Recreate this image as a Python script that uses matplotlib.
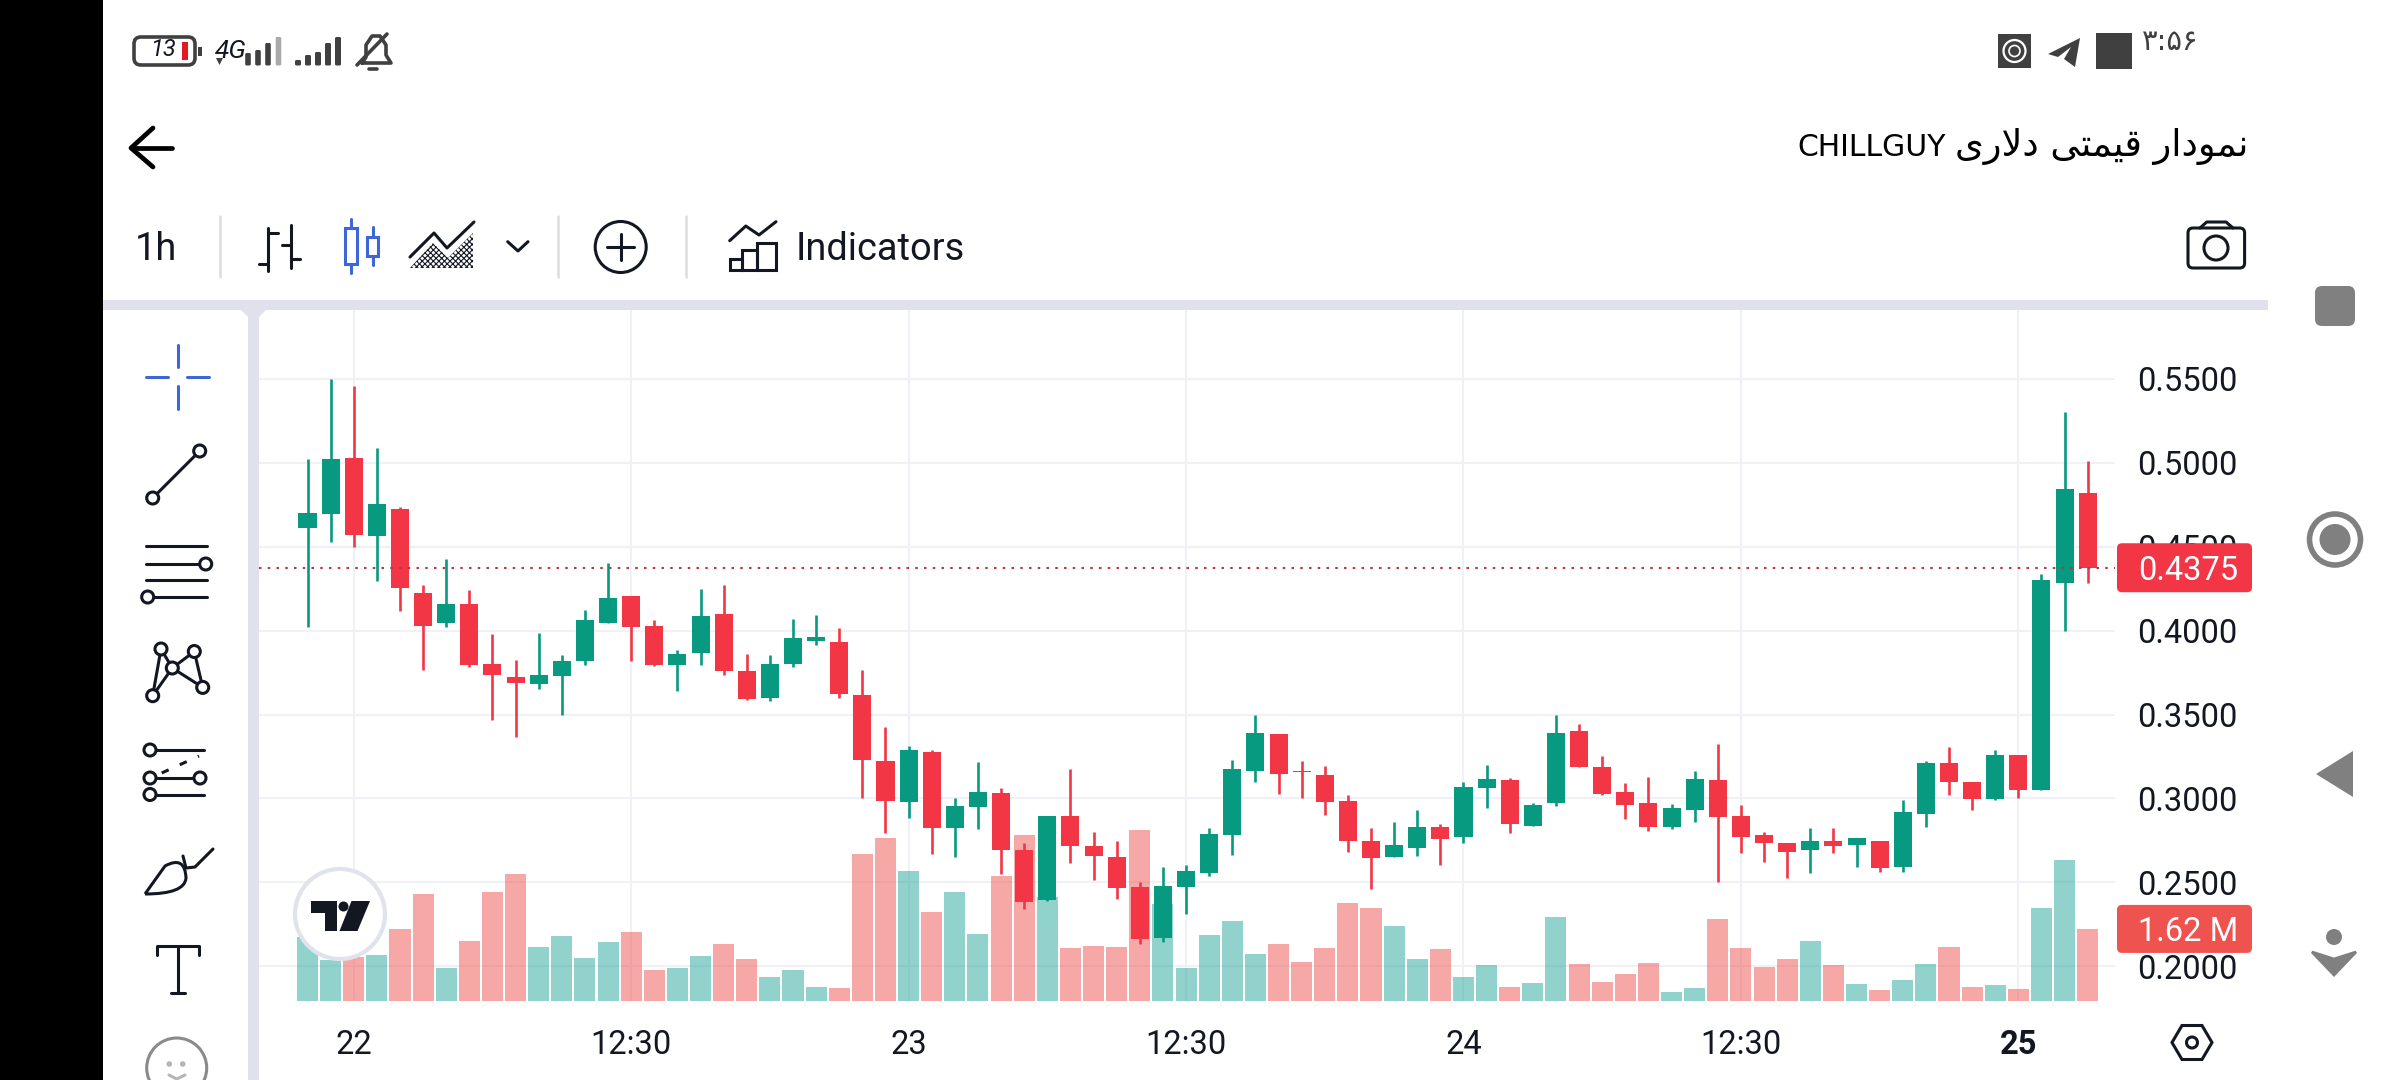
from matplotlib import pyplot as plt
from matplotlib.patches import Circle, FancyBboxPatch, Polygon, Rectangle, PathPatch
from matplotlib.path import Path

plt.rcParams['font.family'] = ['Roboto', 'DejaVu Sans']

# hourly candles
opens = [0.4609, 0.4697, 0.5030, 0.4565, 0.4727, 0.4227, 0.4044, 0.4161, 0.3804, 0.3722, 0.3683, 0.3727, 0.3817,
         0.4044, 0.4208, 0.4025, 0.3798, 0.3869, 0.4101, 0.3757, 0.3596, 0.3804, 0.3940, 0.3934, 0.3615, 0.3221,
         0.2981, 0.3276, 0.2822, 0.2948, 0.3030, 0.2694, 0.2393, 0.2893, 0.2716, 0.2650, 0.2473, 0.2169, 0.2473,
         0.2554, 0.2781, 0.3161, 0.3382, 0.3164, 0.3142, 0.2984, 0.2749, 0.2650, 0.2705, 0.2828, 0.2768, 0.3060,
         0.3109, 0.2833, 0.2973, 0.3404, 0.3186, 0.3036, 0.2973, 0.2828, 0.2929, 0.3109, 0.2893, 0.2781, 0.2732,
         0.2691, 0.2746, 0.2721, 0.2746, 0.2590, 0.2907, 0.3211, 0.3096, 0.2995, 0.3257, 0.3049, 0.4287, 0.4822]
highs = [0.5025, 0.5500, 0.5456, 0.5090, 0.4738, 0.4273, 0.4429, 0.4243, 0.3978, 0.3825, 0.3984, 0.3852, 0.4126,
         0.4404, 0.4208, 0.4066, 0.3882, 0.4251, 0.4273, 0.3858, 0.3852, 0.4071, 0.4096, 0.4014, 0.3763, 0.3424,
         0.3314, 0.3287, 0.3000, 0.3216, 0.3063, 0.2732, 0.2893, 0.3175, 0.2798, 0.2749, 0.2500, 0.2590, 0.2601,
         0.2822, 0.3227, 0.3500, 0.3382, 0.3221, 0.3191, 0.3019, 0.2822, 0.2858, 0.2929, 0.2847, 0.3098, 0.3202,
         0.3120, 0.2973, 0.3500, 0.3443, 0.3251, 0.3090, 0.3125, 0.2967, 0.3161, 0.3322, 0.2959, 0.2798, 0.2732,
         0.2822, 0.2822, 0.2762, 0.2746, 0.2989, 0.3221, 0.3306, 0.3096, 0.3287, 0.3262, 0.4339, 0.5303, 0.5011]
lows = [0.4019, 0.4530, 0.4500, 0.4298, 0.4115, 0.3763, 0.4019, 0.3782, 0.3470, 0.3364, 0.3651, 0.3500, 0.3798,
        0.4044, 0.3817, 0.3787, 0.3643, 0.3793, 0.3733, 0.3585, 0.3580, 0.3782, 0.3912, 0.3601, 0.3000, 0.2792,
        0.2882, 0.2667, 0.2653, 0.2817, 0.2549, 0.2339, 0.2388, 0.2617, 0.2514, 0.2399, 0.2134, 0.2145, 0.2311,
        0.2538, 0.2661, 0.3101, 0.3025, 0.3000, 0.2902, 0.2681, 0.2459, 0.2650, 0.2656, 0.2601, 0.2732, 0.2943,
        0.2792, 0.2833, 0.2954, 0.3186, 0.3019, 0.2877, 0.2806, 0.2817, 0.2858, 0.2500, 0.2675, 0.2620, 0.2524,
        0.2554, 0.2675, 0.2590, 0.2560, 0.2560, 0.2828, 0.3019, 0.2934, 0.2989, 0.3005, 0.3049, 0.4000, 0.4282]
closes = [0.4702, 0.5025, 0.4571, 0.4757, 0.4257, 0.4030, 0.4161, 0.3793, 0.3733, 0.3687, 0.3738, 0.3817, 0.4066,
          0.4197, 0.4019, 0.3798, 0.3863, 0.4085, 0.3757, 0.3591, 0.3804, 0.3954, 0.3964, 0.3620, 0.3229, 0.2986,
          0.3287, 0.2822, 0.2954, 0.3036, 0.2694, 0.2385, 0.2893, 0.2716, 0.2656, 0.2467, 0.2161, 0.2478, 0.2565,
          0.2787, 0.3175, 0.3388, 0.3147, 0.3158, 0.2978, 0.2749, 0.2645, 0.2721, 0.2828, 0.2757, 0.3066, 0.3115,
          0.2847, 0.2959, 0.3393, 0.3186, 0.3025, 0.2959, 0.2828, 0.2943, 0.3115, 0.2888, 0.2768, 0.2732, 0.2680,
          0.2746, 0.2716, 0.2762, 0.2585, 0.2918, 0.3211, 0.3096, 0.2995, 0.3262, 0.3049, 0.4303, 0.4847, 0.4375]
# in millions
volumes = [1.44, 0.93, 0.98, 1.04, 1.62, 2.41, 0.74, 1.35, 2.46, 2.86, 1.22, 1.47, 0.97, 1.33, 1.54, 0.70, 0.74,
           1.01, 1.29, 0.95, 0.53, 0.70, 0.32, 0.30, 3.31, 3.66, 2.93, 2.00, 2.46, 1.51, 2.80, 3.72, 2.33, 1.20,
           1.24, 1.22, 3.85, 2.19, 0.74, 1.49, 1.79, 1.06, 1.29, 0.88, 1.18, 2.21, 2.10, 1.69, 0.95, 1.16, 0.55,
           0.82, 0.32, 0.41, 1.89, 0.84, 0.43, 0.61, 0.86, 0.21, 0.30, 1.85, 1.20, 0.77, 0.95, 1.35, 0.82, 0.39,
           0.25, 0.47, 0.84, 1.22, 0.32, 0.36, 0.28, 2.10, 3.17, 1.62]

price_ticks = [0.20, 0.25, 0.30, 0.35, 0.40, 0.45, 0.50, 0.55]
time_ticks = [2, 14, 26, 38, 50, 62, 74]
time_labels = ['22', '12:30', '23', '12:30', '24', '12:30', '25']

UP = '#089981'
DOWN = '#f23645'
INK = '#131722'
GREY = '#808080'
BLUE = '#3d66d9'
STATUS = '#404040'
LAVENDER = '#e1e1ed'

W, H = 2400, 1080
# plot pane in pixels
LEFT, TOP, RIGHT, BOTTOM = 259, 310, 2115, 1001
rect = [LEFT / W, 1 - BOTTOM / H, (RIGHT - LEFT) / W, (BOTTOM - TOP) / H]
xlim = (-2.098, 78.18)
ylim = (0.1793, 0.5911)

fig = plt.figure(figsize=(24, 10.8), dpi=100, facecolor='white')

# grid and axis labels at the back
ax = fig.add_axes(rect, zorder=1)
ax.set_xlim(xlim)
ax.set_ylim(ylim)
ax.set_xticks(time_ticks, time_labels)
ax.set_yticks(price_ticks, [f'{p:.4f}' for p in price_ticks])
ax.yaxis.tick_right()
ax.tick_params(length=0, labelsize=23.5, labelcolor=INK)
ax.tick_params(axis='x', pad=20)
ax.tick_params(axis='y', pad=16)
ax.xaxis.get_ticklabels()[-1].set_fontweight('bold')
ax.grid(color='#f0f1f6', linewidth=1.5)
ax.set_axisbelow(True)
for side in ax.spines.values():
    side.set_visible(False)

# volume pane
ax_vol = fig.add_axes(rect, zorder=2)
ax_vol.patch.set_alpha(0)
ax_vol.set_xlim(xlim)
ax_vol.set_ylim(0, 15.53)
ax_vol.axis('off')
for i, v in enumerate(volumes):
    col = '#26a69a' if closes[i] >= opens[i] else '#ef5350'
    ax_vol.bar(i, v, width=0.91, color=col, alpha=0.5, linewidth=0)

# candles
ax_c = fig.add_axes(rect, zorder=3)
ax_c.patch.set_alpha(0)
ax_c.set_xlim(xlim)
ax_c.set_ylim(ylim)
ax_c.axis('off')
for i in range(len(opens)):
    col = UP if closes[i] >= opens[i] else DOWN
    ax_c.vlines(i, lows[i], highs[i], color=col, linewidth=1.9)
    ax_c.bar(i, abs(closes[i] - opens[i]), bottom=min(opens[i], closes[i]), width=0.78, color=col, linewidth=0)
ax_c.axhline(closes[-1], color='#b23a4a', linewidth=1.5, linestyle=(0, (1.2, 3)))

# everything around the chart is drawn in screen pixels
ui = fig.add_axes([0, 0, 1, 1], zorder=10)
ui.patch.set_alpha(0)
ui.set_xlim(0, W)
ui.set_ylim(H, 0)
ui.axis('off')


def line(xs, ys, color=INK, lw=2.2, **kw):
    ui.plot(xs, ys, color=color, linewidth=lw, solid_capstyle=kw.pop('cap', 'round'), **kw)


def box(x0, y0, x1, y1, color, zorder=2):
    ui.add_patch(Rectangle((x0, y0), x1 - x0, y1 - y0, facecolor=color, edgecolor='none', zorder=zorder))


def dot(x, y, r=6, lw=2.2):
    ui.add_patch(Circle((x, y), r, facecolor='white', edgecolor=INK, linewidth=lw, zorder=4))


def rounded(x0, y0, x1, y1, color, r=6, edge='none', lw=0, fill=True):
    ui.add_patch(FancyBboxPatch((x0 + r, y0 + r), x1 - x0 - 2 * r, y1 - y0 - 2 * r,
                                boxstyle=f'round,pad={r},rounding_size={r}',
                                facecolor=color if fill else 'none', edgecolor=edge, linewidth=lw, zorder=3))


# frame pieces
box(0, 0, 103, H, 'black')
box(103, 300, 2268, 310, LAVENDER)
box(248, 300, 259, H, LAVENDER)
ui.add_patch(Polygon([(241, 310), (248, 310), (248, 317)], facecolor=LAVENDER, edgecolor='none'))
ui.add_patch(Polygon([(259, 310), (266, 310), (259, 317)], facecolor=LAVENDER, edgecolor='none'))

# price and volume tags follow the last bar
tag_y = H - ax_c.transData.transform((0, closes[-1]))[1]
rounded(2117, tag_y - 24.5, 2252, tag_y + 24.5, DOWN, r=5)
ui.text(2138, tag_y, f'{closes[-1]:.4f}', color='white', fontsize=23.5, va='center_baseline', zorder=5)
vol_y = H - ax_vol.transData.transform((0, volumes[-1]))[1]
rounded(2117, vol_y - 24, 2252, vol_y + 24, '#ef5350', r=5)
ui.text(2238, vol_y, f'{volumes[-1]:.2f} M', color='white', fontsize=23.5, ha='right', va='center_baseline', zorder=5)

# tradingview badge
ui.add_patch(Circle((340, 914), 45, facecolor='white', edgecolor='#e0e3eb', linewidth=3, zorder=3))
ui.add_patch(Polygon([(311, 901), (337, 901), (337, 931), (325, 931), (325, 913), (311, 913)], facecolor=INK, zorder=4))
ui.add_patch(Circle((343.5, 906.5), 5, facecolor=INK, zorder=4))
ui.add_patch(Polygon([(351.5, 901), (370, 901), (357.5, 931), (339.5, 931)], facecolor=INK, zorder=4))

# status bar, left
rounded(134, 37, 195, 65, 'none', r=7, edge=STATUS, lw=2.6, fill=False)
box(182, 42, 188, 60, '#e01b24', zorder=5)
box(198, 47, 202, 56, STATUS)
ui.text(163, 49, '13', fontsize=17, style='italic', color=INK, ha='center', va='center')
ui.text(231, 51, '4G', fontsize=19, style='italic', color=INK, ha='center', va='center', zorder=5)
for x, top, col in [(248, 53, STATUS), (258, 50, STATUS), (268, 43, STATUS), (278.5, 37, '#aaaaaa')]:
    rounded(x - 2.8, top, x + 2.8, 65.5, col, r=1.5)
ui.add_patch(Polygon([(216, 58), (223, 58), (219.5, 65)], facecolor=STATUS))
for x, top in [(298, 60), (308, 55), (318, 52), (328, 43), (338, 37)]:
    rounded(x - 3, top, x + 3, 65.5, STATUS, r=1.5)
line([362, 366, 366, 372, 380, 386, 386, 391, 362], [63, 57, 45, 36, 36, 45, 55, 63, 63], color=STATUS, lw=2.6)
line([357, 387], [65, 34], color=STATUS, lw=2.6)
line([369, 377], [69, 69], color=STATUS, lw=2.6)

# status bar, right
box(1998, 34, 2031, 68, STATUS)
ui.add_patch(Circle((2014.5, 51), 11, facecolor='none', edgecolor='white', linewidth=1.6, zorder=4))
ui.add_patch(Circle((2014.5, 51), 5.5, facecolor='none', edgecolor='white', linewidth=1.2, zorder=4))
ui.add_patch(Polygon([(2048, 54), (2080, 38), (2075, 67), (2064, 59), (2071, 47), (2058, 57)], facecolor=STATUS, zorder=3))
box(2096, 33, 2132, 69, STATUS)
ui.text(2142, 42, '\u06f3:\u06f5\u06f6', fontsize=21, color=STATUS, family='DejaVu Sans', va='center')

# title row, persian forms are in visual order because matplotlib does not shape them
line([172, 132], [148, 148], color='black', lw=3.4)
line([153, 131, 153], [128, 148, 167], color='black', lw=3.4)
ui.text(1797, 156, 'CHILLGUY', fontsize=21.5, color='black', family='DejaVu Sans', va='baseline')
title_fa = '\ufbfc\ufead\ufefb\ufea9 \ufbfd\ufe98\ufee4\ufbff\ufed7 \ufead\ufe8d\ufea9\ufeee\ufee4\ufee7'
ui.text(2248, 156, title_fa, fontsize=26.5, color='black', family='DejaVu Sans', ha='right', va='baseline')

# top toolbar
ui.text(135, 249, '1h', fontsize=27.4, color=INK, va='center')
ui.text(796, 249, 'Indicators', fontsize=27.4, color=INK, va='center')
for x in [219.5, 557.5, 686]:
    line([x, x], [216, 277], color='#dcdcdc', lw=1.8)
line([268.3, 268.3], [228, 271])
line([268.3, 278], [233, 233])
line([259, 268.3], [264, 264])
line([290.7, 290.7], [225, 268])
line([281.7, 290.7], [245, 245])
line([290.7, 300], [259, 259])
ui.add_patch(Rectangle((345, 228), 11.7, 36, facecolor='white', edgecolor=BLUE, linewidth=2.2, zorder=3))
ui.add_patch(Rectangle((366.7, 237), 11.3, 19, facecolor='white', edgecolor=BLUE, linewidth=2.2, zorder=3))
line([350.8, 350.8], [219, 228], color=BLUE)
line([350.8, 350.8], [264, 273], color=BLUE)
line([372.7, 372.7], [227, 237], color=BLUE)
line([372.7, 372.7], [256, 265], color=BLUE)
plt.rcParams['hatch.linewidth'] = 0.8
ui.add_patch(Polygon([(410, 268), (433, 243), (448, 258), (473, 233), (473, 268)], facecolor='white',
                     edgecolor=INK, hatch='xxxxxx', linewidth=0))
line([410, 434, 447, 474], [257, 233, 248, 222])
line([507.7, 518, 528], [241.7, 251, 241.7])
ui.add_patch(Circle((620.7, 247), 25.5, facecolor='none', edgecolor=INK, linewidth=2.2))
line([607, 634], [247, 247])
line([620.7, 620.7], [234, 260])
line([729.7, 745.8, 759, 776], [240.7, 226, 235, 221.7])
for x0, x1, top in [(730, 741.8, 259), (741.8, 757.3, 250), (757.3, 775.6, 242.7)]:
    ui.add_patch(Rectangle((x0, top), x1 - x0, 270 - top, facecolor='none', edgecolor=INK, linewidth=2.2))
rounded(2188, 228, 2244.6, 268, 'none', r=5, edge=INK, lw=2.2, fill=False)
line([2200, 2206.7, 2226, 2233], [228, 222, 222, 228])
ui.add_patch(Circle((2216, 248), 12, facecolor='none', edgecolor=INK, linewidth=2.2))

# drawing tools on the left
line([177.7, 177.7], [345, 367], color=BLUE)
line([177.7, 177.7], [386, 409], color=BLUE)
line([146, 168], [376.7, 376.7], color=BLUE)
line([187, 209], [376.7, 376.7], color=BLUE)

line([152.7, 199.7], [498, 451])
dot(152.7, 498)
dot(199.7, 451)

line([146, 207], [546, 546])
line([146, 207], [564, 564])
line([146, 207], [580, 580])
line([147.7, 207], [597, 597])
dot(205.7, 564)
dot(147.7, 597)

pts = {'a': (161, 649), 'b': (194.3, 651.5), 'c': (172.3, 668), 'd': (152.7, 695.7), 'e': (202.7, 687.4)}
for p, q in ['ad', 'ac', 'cb', 'be', 'ce', 'cd']:
    line([pts[p][0], pts[q][0]], [pts[p][1], pts[q][1]])
for x, y in pts.values():
    dot(x, y)

line([150, 204], [750, 750])
line([150, 200], [778, 778])
line([150, 204], [794.5, 794.5])
ui.plot([161.7, 199], [773, 756], color=INK, linewidth=2.2, linestyle=(0, (2.5, 4)))
dot(150, 750)
dot(150, 778)
dot(200, 778)
dot(150, 794.5)

brush = Path([(145, 894), (155, 880), (165, 866), (185, 855), (186, 878), (185, 894), (145, 894)],
             [Path.MOVETO, Path.CURVE3, Path.CURVE3, Path.CURVE3, Path.CURVE3, Path.CURVE3, Path.LINETO])
ui.add_patch(PathPatch(brush, facecolor='none', edgecolor=INK, linewidth=2.2))
line([183, 186, 195, 213], [856, 868, 867, 849])

line([157, 157, 198.7, 198.7], [955, 946, 946, 955])
line([177.7, 177.7], [946, 993])
line([171, 185], [993, 993])

ui.add_patch(Circle((176.7, 1068), 30, facecolor='none', edgecolor='#8a8a8a', linewidth=2.2))
ui.add_patch(Circle((169.3, 1064), 2.8, facecolor='#b5b5b5'))
ui.add_patch(Circle((182.7, 1064), 2.8, facecolor='#b5b5b5'))
line([169, 176.7, 185], [1075, 1079, 1075], color='#b5b5b5')

# settings hexagon
ui.add_patch(Polygon([(2172, 1042.5), (2182, 1025.5), (2202, 1025.5), (2212, 1042.5), (2202, 1059.5), (2182, 1059.5)],
                     facecolor='none', edgecolor=INK, linewidth=2.2))
ui.add_patch(Circle((2192, 1042.5), 5.5, facecolor='none', edgecolor=INK, linewidth=2.2))

# navigation buttons
rounded(2315, 286, 2355, 326, GREY, r=7)
ui.add_patch(Circle((2335, 539.5), 25.5, facecolor='none', edgecolor=GREY, linewidth=4))
ui.add_patch(Circle((2335, 539.5), 15.5, facecolor=GREY))
ui.add_patch(Polygon([(2316, 774), (2353, 751), (2353, 797)], facecolor=GREY))
ui.add_patch(Circle((2334, 937), 8, facecolor=GREY))
ui.add_patch(Polygon([(2312, 952), (2334, 959), (2356, 952), (2334, 975)], facecolor=GREY, edgecolor=GREY, linewidth=2))

fig.savefig('out.png', dpi=100, facecolor='white')
